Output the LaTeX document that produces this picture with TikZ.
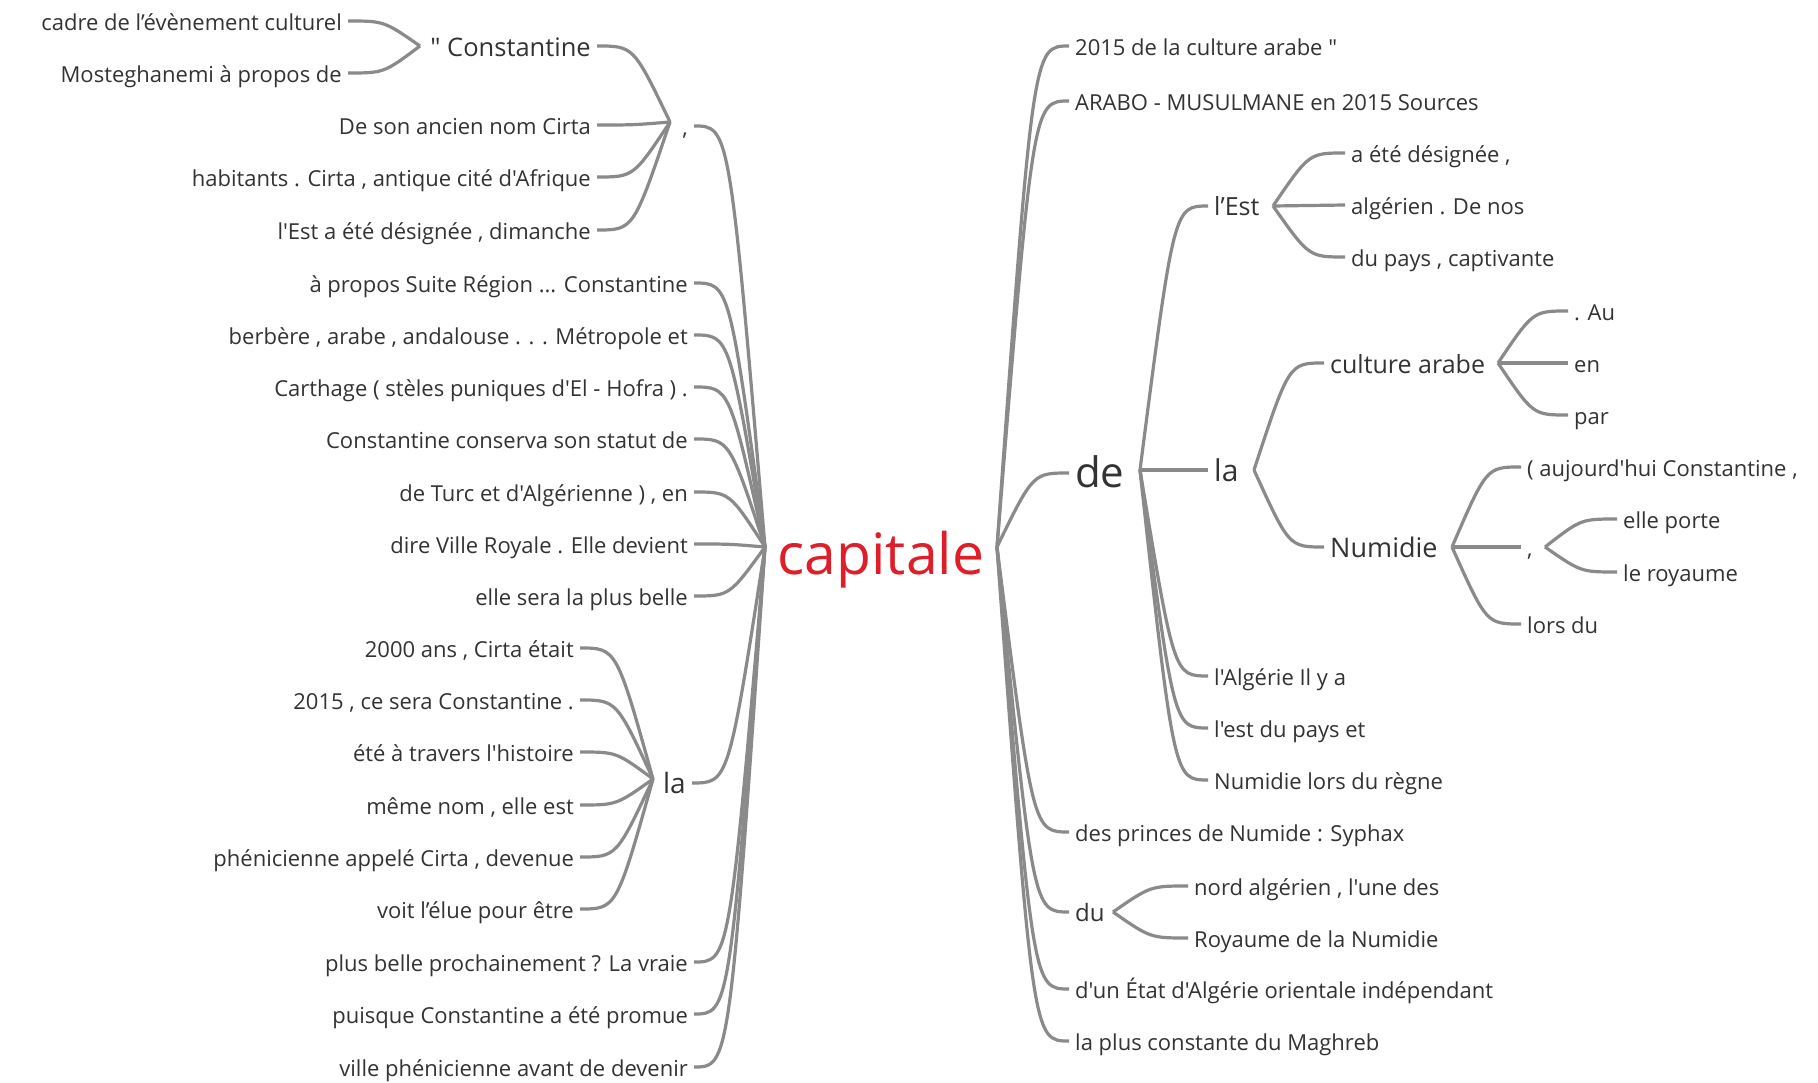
\documentclass[tikz,border=0pt]{standalone}
\usepackage{fontspec}
\setmainfont{Open Sans}[Ligatures=TeXOff]
\usetikzlibrary{calc}
\definecolor{capred}{RGB}{222,30,40}
\definecolor{linkgray}{RGB}{138,138,138}
\tikzset{
  word/.style={font=\fontsize{#1}{#1}\selectfont, text=black!80, inner xsep=6pt, inner ysep=0pt,
    text height={0.72*#1+7}, text depth={0.2*#1}},
  leaf/.style={word=22},
  link/.style={draw=linkgray, line width=3.2pt,
    to path={let \p1=($(\tikztostart)!0.5!(\tikztotarget)$), \p2=(\tikztotarget) in
      .. controls (\x1,\y2) .. (\tikztotarget)}},
}
\begin{document}
\begin{tikzpicture}[x=1pt, y=-1pt]
  \fill[white] (0,0) rectangle (1818,1083);
  \useasboundingbox (0,0) rectangle (1818,1083);

  \node[word=57, text=capred, inner xsep=0pt] (cap) at (881,556) {capitale};
  \coordinate (jl) at (765,547);
  \coordinate (jr) at (997,547);

  \node[word=22, anchor=east] (comma) at (694,126) {,};
  \coordinate (jcomma) at (670,122);
  \node[word=25.5, anchor=east] (constantine) at (597,46) {" Constantine};
  \coordinate (jconst) at (420,46);
  \node[leaf, anchor=east] (cadre) at (348,21) {cadre de l’évènement culturel};
  \node[leaf, anchor=east] (mosteg) at (348,73) {Mosteghanemi à propos de};
  \node[leaf, anchor=east] (ancien) at (597,125) {De son ancien nom Cirta};
  \node[leaf, anchor=east] (habitants) at (597,177) {habitants . Cirta , antique cité d'Afrique};
  \node[leaf, anchor=east] (dimanche) at (597,230) {l'Est a été désignée , dimanche};
  \node[leaf, anchor=east] (suite) at (694,283) {à propos Suite Région ... Constantine};
  \node[leaf, anchor=east] (berbere) at (694,335) {berbère , arabe , andalouse . . . Métropole et};
  \node[leaf, anchor=east] (carthage) at (694,387) {Carthage ( stèles puniques d'El - Hofra ) .};
  \node[leaf, anchor=east] (conserva) at (694,439) {Constantine conserva son statut de};
  \node[leaf, anchor=east] (turc) at (694,492) {de Turc et d'Algérienne ) , en};
  \node[leaf, anchor=east] (royale) at (694,544) {dire Ville Royale . Elle devient};
  \node[leaf, anchor=east] (sera) at (694,596) {elle sera la plus belle};
  \node[word=28, anchor=east] (lla) at (692,783) {la};
  \coordinate (jlla) at (653,779);
  \node[leaf, anchor=east] (ans) at (580,648) {2000 ans , Cirta était};
  \node[leaf, anchor=east] (cesera) at (580,700) {2015 , ce sera Constantine .};
  \node[leaf, anchor=east] (histoire) at (580,752) {été à travers l'histoire};
  \node[leaf, anchor=east] (nom) at (580,805) {même nom , elle est};
  \node[leaf, anchor=east] (appele) at (580,857) {phénicienne appelé Cirta , devenue};
  \node[leaf, anchor=east] (elue) at (580,909) {voit l’élue pour être};
  \node[leaf, anchor=east] (vraie) at (694,962) {plus belle prochainement ? La vraie};
  \node[leaf, anchor=east] (promue) at (694,1014) {puisque Constantine a été promue};
  \node[leaf, anchor=east] (devenir) at (694,1067) {ville phénicienne avant de devenir};

  \node[leaf, anchor=west] (arabe) at (1069,46) {2015 de la culture arabe "};
  \node[leaf, anchor=west] (sources) at (1069,101) {ARABO - MUSULMANE en 2015 Sources};
  \node[word=42, anchor=west] (de) at (1069,473) {de};
  \coordinate (jde) at (1140,470);
  \node[word=25, anchor=west] (est) at (1208,206) {l’Est};
  \coordinate (jest) at (1273,206);
  \node[leaf, anchor=west] (designee) at (1345,153) {a été désignée ,};
  \node[leaf, anchor=west] (denos) at (1345,205) {algérien . De nos};
  \node[leaf, anchor=west] (captivante) at (1345,257) {du pays , captivante};
  \node[word=30, anchor=west] (rla) at (1208,470) {la};
  \coordinate (jrla) at (1254,470);
  \node[word=25, anchor=west] (carabe) at (1324,363) {culture arabe};
  \coordinate (jcarabe) at (1498,363);
  \node[leaf, anchor=west] (au) at (1568,311) {. Au};
  \node[leaf, anchor=west] (en) at (1568,363) {en};
  \node[leaf, anchor=west] (par) at (1568,415) {par};
  \node[word=27, anchor=west] (numidie) at (1324,547) {Numidie};
  \coordinate (jnumidie) at (1452,547);
  \node[leaf, anchor=west] (aujourdhui) at (1521,467) {( aujourd'hui Constantine ,};
  \node[leaf, anchor=west] (rcomma) at (1521,547) {,};
  \coordinate (jrcomma) at (1545,547);
  \node[leaf, anchor=west] (porte) at (1617,519) {elle porte};
  \node[leaf, anchor=west] (royaume) at (1617,572) {le royaume};
  \node[leaf, anchor=west] (lorsdu) at (1521,624) {lors du};
  \node[leaf, anchor=west] (ilya) at (1208,676) {l'Algérie Il y a};
  \node[leaf, anchor=west] (pays) at (1208,728) {l'est du pays et};
  \node[leaf, anchor=west] (regne) at (1208,780) {Numidie lors du règne};
  \node[leaf, anchor=west] (syphax) at (1069,832) {des princes de Numide : Syphax};
  \node[word=24, anchor=west] (du) at (1069,912) {du};
  \coordinate (jdu) at (1113,912);
  \node[leaf, anchor=west] (nord) at (1188,886) {nord algérien , l'une des};
  \node[leaf, anchor=west] (rnumidie) at (1188,938) {Royaume de la Numidie};
  \node[leaf, anchor=west] (etat) at (1069,989) {d'un État d'Algérie orientale indépendant};
  \node[leaf, anchor=west] (maghreb) at (1069,1041) {la plus constante du Maghreb};

  \draw[link] (jl) to (comma.east);
  \draw[link] (jl) to (suite.east);
  \draw[link] (jl) to (berbere.east);
  \draw[link] (jl) to (carthage.east);
  \draw[link] (jl) to (conserva.east);
  \draw[link] (jl) to (turc.east);
  \draw[link] (jl) to (royale.east);
  \draw[link] (jl) to (sera.east);
  \draw[link] (jl) to (lla.east);
  \draw[link] (jl) to (vraie.east);
  \draw[link] (jl) to (promue.east);
  \draw[link] (jl) to (devenir.east);
  \draw[link] (jcomma) to (constantine.east);
  \draw[link] (jcomma) to (ancien.east);
  \draw[link] (jcomma) to (habitants.east);
  \draw[link] (jcomma) to (dimanche.east);
  \draw[link] (jconst) to (cadre.east);
  \draw[link] (jconst) to (mosteg.east);
  \draw[link] (jlla) to (ans.east);
  \draw[link] (jlla) to (cesera.east);
  \draw[link] (jlla) to (histoire.east);
  \draw[link] (jlla) to (nom.east);
  \draw[link] (jlla) to (appele.east);
  \draw[link] (jlla) to (elue.east);

  \draw[link] (jr) to (arabe.west);
  \draw[link] (jr) to (sources.west);
  \draw[link] (jr) to (de.west);
  \draw[link] (jr) to (syphax.west);
  \draw[link] (jr) to (du.west);
  \draw[link] (jr) to (etat.west);
  \draw[link] (jr) to (maghreb.west);
  \draw[link] (jde) to (est.west);
  \draw[link] (jde) to (rla.west);
  \draw[link] (jde) to (ilya.west);
  \draw[link] (jde) to (pays.west);
  \draw[link] (jde) to (regne.west);
  \draw[link] (jest) to (designee.west);
  \draw[link] (jest) to (denos.west);
  \draw[link] (jest) to (captivante.west);
  \draw[link] (jrla) to (carabe.west);
  \draw[link] (jrla) to (numidie.west);
  \draw[link] (jcarabe) to (au.west);
  \draw[link] (jcarabe) to (en.west);
  \draw[link] (jcarabe) to (par.west);
  \draw[link] (jnumidie) to (aujourdhui.west);
  \draw[link] (jnumidie) to (rcomma.west);
  \draw[link] (jnumidie) to (lorsdu.west);
  \draw[link] (jrcomma) to (porte.west);
  \draw[link] (jrcomma) to (royaume.west);
  \draw[link] (jdu) to (nord.west);
  \draw[link] (jdu) to (rnumidie.west);
\end{tikzpicture}
\end{document}
